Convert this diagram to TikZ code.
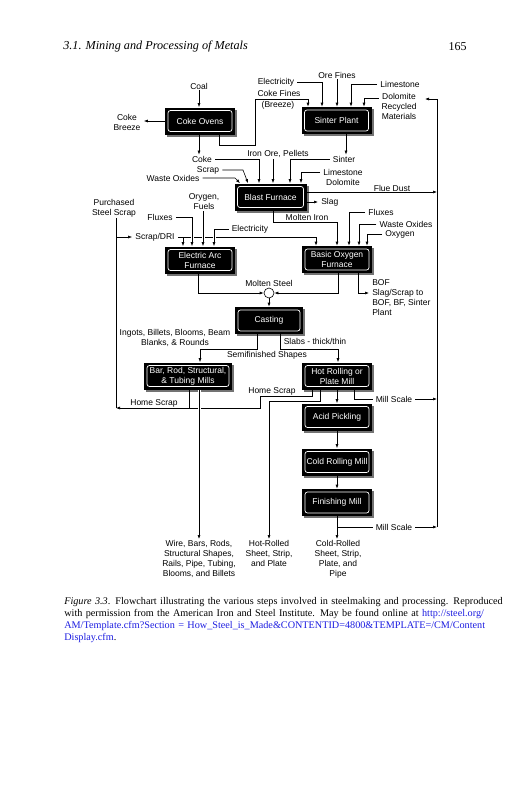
\documentclass[tikz,border=0pt]{standalone}
\usepackage{fontspec}
\setmainfont{Liberation Serif}
\setsansfont{Liberation Sans}
\usetikzlibrary{arrows.meta,shadows,calc}
\definecolor{linkblue}{RGB}{30,30,225}
\tikzset{
  lbl/.style={font=\sffamily\fontsize{8.5}{10}\selectfont, inner xsep=3pt, inner ysep=1pt, align=center},
  proc/.style={fill=black, text=white, font=\sffamily\fontsize{8.5}{10}\selectfont,
    minimum width=70pt, minimum height=27pt, inner sep=1pt, align=center,
    drop shadow={shadow xshift=2pt, shadow yshift=-2pt, fill=black!55, opacity=1},
    path picture={\draw[white, line width=0.7pt, rounded corners=2.5pt]
      ([shift={(3pt,3pt)}]path picture bounding box.south west) rectangle
      ([shift={(-3pt,-3pt)}]path picture bounding box.north east);}},
  arr/.style={-{Latex[length=4pt,width=3pt]}},
  halo/.style={preaction={draw=white, line width=3pt, -}},
}
\begin{document}
\begin{tikzpicture}[x=1pt,y=-1pt,line width=0.6pt]
\useasboundingbox (0,0) rectangle (527,800);
\fill[white] (0,0) rectangle (527,800);

% header
\node[anchor=west, inner sep=0, font=\itshape\fontsize{12.2}{14}\selectfont] (hdr) at (63,47) {3.1. Mining and Processing of Metals};
\node[anchor=east, inner sep=0, font=\fontsize{12}{14}\selectfont] (pg) at (467,47) {165};

% process boxes
\node[proc] (co) at (200,121) {Coke Ovens};
\node[proc] (sp) at (336.5,120.5) {Sinter Plant};
\node[proc, minimum width=72pt] (bf) at (270.5,197) {Blast Furnace};
\node[proc] (eaf) at (200,260) {Electric Arc\\Furnace};
\node[proc] (bof) at (337,259.5) {Basic Oxygen\\Furnace};
\node[proc, minimum width=68pt] (cast) at (269,320.5) {Casting};
\node[proc, minimum width=88pt] (bar) at (188,376) {Bar, Rod, Structural,\\\& Tubing Mills};
\node[proc] (hr) at (337,376) {Hot Rolling or\\Plate Mill};
\node[proc] (ap) at (337,417) {Acid Pickling};
\node[proc] (crm) at (337,462) {Cold Rolling Mill};
\node[proc] (fm) at (337,502.5) {Finishing Mill};

% labels
\node[lbl] (coal) at (199,86) {Coal};
\node[lbl] (cbz) at (127,122.5) {Coke\\Breeze};
\node[lbl] (elec) at (276,82) {Electricity};
\node[lbl] (ore) at (337,75) {Ore Fines};
\node[lbl] (limeA) at (400,84) {Limestone};
\node[lbl] (doloA) at (399,96) {Dolomite};
\node[lbl] (recyc) at (399,111) {Recycled\\Materials};
\node[lbl] (cfines) at (279,93) {Coke Fines};
\node[lbl] (breeze) at (278,105) {(Breeze)};
\node[lbl] (coke) at (202,159) {Coke};
\node[lbl] (iron) at (278,154) {Iron Ore, Pellets};
\node[lbl] (sinter) at (344,159) {Sinter};
\node[lbl] (scrap) at (208,170) {Scrap};
\node[lbl] (wox1) at (173,178) {Waste Oxides};
\node[lbl] (limeB) at (343,172) {Limestone};
\node[lbl] (doloB) at (343,182.5) {Dolomite};
\node[lbl] (flue) at (392,188) {Flue Dust};
\node[lbl, anchor=west] (slag) at (318,202) {Slag};
\node[lbl] (miron) at (307,217.5) {Molten Iron};
\node[lbl] (oxf) at (204,202) {Orygen,\\Fuels};
\node[lbl] (purch) at (114,208) {Purchased\\Steel Scrap};
\node[lbl] (flux1) at (160,217) {Fluxes};
\node[lbl] (elec2) at (250,229) {Electricity};
\node[lbl] (sdri) at (155,237) {Scrap/DRI};
\node[lbl] (flux2) at (381,212) {Fluxes};
\node[lbl] (wox2) at (406,224) {Waste Oxides};
\node[lbl] (oxy) at (400,234) {Oxygen};
\node[lbl] (msteel) at (269,283) {Molten Steel};
\node[draw, circle, minimum size=10pt, inner sep=0pt, fill=white] (circ) at (269,293) {};
\node[lbl, anchor=west] (bofl) at (369,283) {BOF};
\node[lbl, anchor=north west, align=left] (slagsc) at (369,288) {Slag/Scrap to\\BOF, BF, Sinter\\Plant};
\node[lbl] (ingots) at (175,337.5) {Ingots, Billets, Blooms, Beam\\Blanks, \& Rounds};
\node[lbl] (slabs) at (315,341) {Slabs - thick/thin};
\node[lbl] (semi) at (267,355) {Semifinished Shapes};
\node[lbl] (hs2) at (272,391) {Home Scrap};
\node[lbl] (hs1) at (154,403) {Home Scrap};
\node[lbl] (ms1) at (394,399) {Mill Scale};
\node[lbl] (ms2) at (394,527) {Mill Scale};
\node[lbl, anchor=north] (wire) at (199,539) {Wire, Bars, Rods,\\Structural Shapes,\\Rails, Pipe, Tubing,\\Blooms, and Billets};
\node[lbl, anchor=north] (hot) at (269,539) {Hot-Rolled\\Sheet, Strip,\\and Plate};
\node[lbl, anchor=north] (cold) at (338,539) {Cold-Rolled\\Sheet, Strip,\\Plate, and\\Pipe};

% coordinates
\coordinate (cfa) at (255,145);
\coordinate (cfb) at (255,99);
\coordinate (fbtop) at (437,99);
\coordinate (fbbot) at (437,527);
\coordinate (fbtip) at (425,99);
\coordinate (scb) at (243,170);
\coordinate (wob) at (235,178);
\coordinate (lb) at (116,408);
\coordinate (hsa) at (260,396);
\coordinate (hsb) at (260,408);

% coke ovens
\draw[arr] (coal) -- (coal |- co.north);
\draw[arr] (co.west) -- (cbz.east |- co.west);
\draw[arr] (co.south -| coal) -- (coal |- coke.north);
\draw[arr] ([xshift=19pt]co.south) |- (cfa) -- (cfb) -| ([xshift=-28.5pt]sp.north);

% sinter plant
\draw[arr] (elec.east) -| ([xshift=-14.5pt]sp.north);
\draw[arr] (ore) -- (ore |- sp.north);
\draw[arr] (limeA.west) -| ([xshift=14.5pt]sp.north);
\draw[arr] ([yshift=-2pt]doloA.west) -| ([xshift=27.5pt]sp.north);
\draw[arr] (fbbot) -- (fbtop) -- (fbtip);
\draw[arr] ([xshift=9.5pt]sp.south) -- ([xshift=9.5pt]sp.south |- sinter.north);

% blast furnace
\draw[arr] (coke.east) -| ([xshift=-11.5pt]bf.north);
\draw[arr] ([xshift=2.5pt]bf.north |- iron.south) -- ([xshift=2.5pt]bf.north);
\draw[arr] (sinter.west) -| ([xshift=19.5pt]bf.north);
\draw[arr] (limeB.west) -| ([xshift=30.5pt]bf.north);
\draw[arr] (scrap.east) -- (scb) -- ([xshift=-22.5pt]bf.north);
\draw[arr] (wox1.east) -- (wob) -- ([xshift=-30.5pt]bf.north);
\draw[arr] ([yshift=5pt]bf.east) -- ([yshift=5pt]bf.east -| fbtop);
\draw[arr] ([yshift=-5pt]bf.east) -- (slag.west);
\draw[arr] ([xshift=2.5pt]bf.south) -- ++(0,11) -| (bof.north);

% BOF inputs
\draw[arr] (flux2.west) -| ([xshift=12pt]bof.north);
\draw[arr] (wox2.west) -| ([xshift=22pt]bof.north);
\draw[arr] (oxy.west) -| ([xshift=30pt]bof.north);

% EAF inputs
\draw (purch.south -| lb) -- (lb);
\draw[arr] (lb |- sdri.west) -- (sdri.west);
\draw[arr] (sdri.east) -| ([xshift=-21pt]bof.north);
\draw[arr] ([xshift=-17pt]eaf.north |- sdri.east) -- ([xshift=-17pt]eaf.north);
\draw[arr, halo] (flux1.east) -| ([xshift=-8pt]eaf.north);
\draw[arr, halo] ([xshift=3pt]eaf.north |- oxf.south) -- ([xshift=3pt]eaf.north);
\draw[arr, halo] (elec2.west) -| ([xshift=14pt]eaf.north);

% molten steel
\draw[arr] ([xshift=-2pt]eaf.south) |- (circ.west);
\draw[arr] ([xshift=1pt]bof.south) |- (circ.east);
\draw[arr] ([xshift=21pt]bof.south) |- (circ -| slagsc.west);
\draw[arr] (circ.south) -- (cast.north);

% casting
\draw[arr] ([xshift=-12pt]cast.south) -- ++(0,15) -| ([xshift=12pt]bar.north);
\draw[arr] ([xshift=11pt]cast.south) -- ++(0,15) -| ([xshift=1pt]hr.north);

% rolling
\draw[arr] ([xshift=-25pt]hr.south) |- (hsa) -- (hsb) -- (lb);
\draw ([xshift=1pt]bar.south) -- ([xshift=1pt]bar.south |- lb);
\draw[arr, halo] ([xshift=11pt]bar.south) -- ([xshift=11pt]bar.south |- wire.north);
\draw[arr] ([xshift=-17pt]hr.south) -- ++(0,11) -| (hot.north);
\draw[arr] (hr) -- (ap);
\draw ([xshift=17pt]hr.south) |- (ms1.west);
\draw[arr] (ms1.east) -- (ms1.east -| fbtop);
\draw[arr] (ap) -- (crm);
\draw[arr] (crm) -- (fm);
\draw[arr] (fm.south) -- (fm.south |- cold.north);
\draw (fm.south |- ms2.west) -- (ms2.west);
\draw[arr] (ms2.east) -- (fbbot);

% caption
\node[anchor=north west, inner sep=0pt, text width=403pt, font=\fontsize{10.2}{12}\selectfont] (cap) at (64,597) {%
\makebox[403pt][s]{\textit{Figure 3.3}. Flowchart illustrating the various steps involved in steelmaking and processing. Reproduced}\par
\makebox[403pt][s]{with permission from the American Iron and Steel Institute. May be found online at \textcolor{linkblue}{http://steel.org/}}\par
\makebox[403pt][s]{\textcolor{linkblue}{AM/Template.cfm?Section = How\_Steel\_is\_Made\&CONTENTID=4800\&TEMPLATE=/CM/Content}}\par
\textcolor{linkblue}{Display.cfm}.};
\end{tikzpicture}
\end{document}
